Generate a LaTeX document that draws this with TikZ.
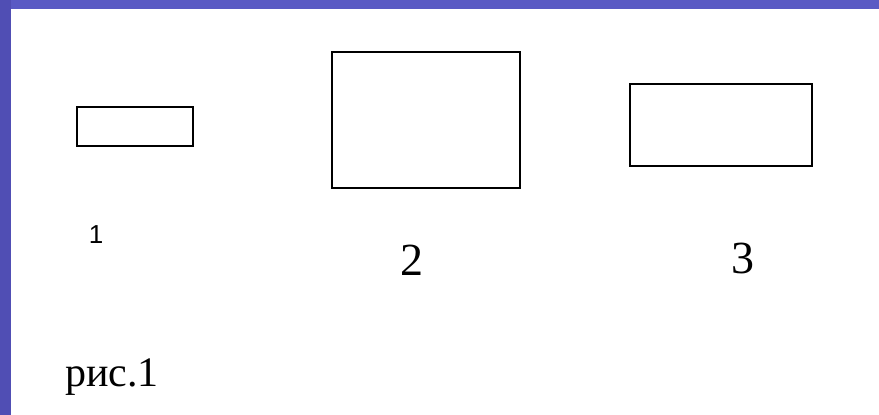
\documentclass[tikz,border=0pt]{standalone}
\usepackage{fontspec}
\setmainfont{Liberation Serif}
\newfontfamily\labsans{Liberation Sans}
\definecolor{barblue}{RGB}{90,90,196}
\definecolor{sideblue}{RGB}{80,78,180}
\tikzset{
  figbox/.style={draw=black, line width=2.2pt},
  numlab/.style={inner sep=0pt, font=\fontsize{46}{50}\selectfont},
}
\begin{document}
\begin{tikzpicture}[x=1pt,y=-1pt]
\useasboundingbox (0,0) rectangle (879,415);
\fill[white] (0,0) rectangle (879,415);
\fill[barblue] (0,0) rectangle (879,9);
\fill[sideblue] (0,0) rectangle (11,415);
\draw[figbox] (77,107) rectangle (193,146);
\draw[figbox] (332,52) rectangle (520,188);
\draw[figbox] (630,84) rectangle (812,166);
\node[inner sep=0pt, font={\labsans\fontsize{26}{28}\selectfont}, anchor=base] (l1) at (96,243) {1};
\node[numlab, anchor=base] (l2) at (412,275) {2};
\node[numlab, anchor=base] (l3) at (743,273) {3};
\node[inner sep=0pt, font=\fontsize{42}{46}\selectfont, anchor=base west] (cap) at (65,386) {рис.1};
\end{tikzpicture}
\end{document}
